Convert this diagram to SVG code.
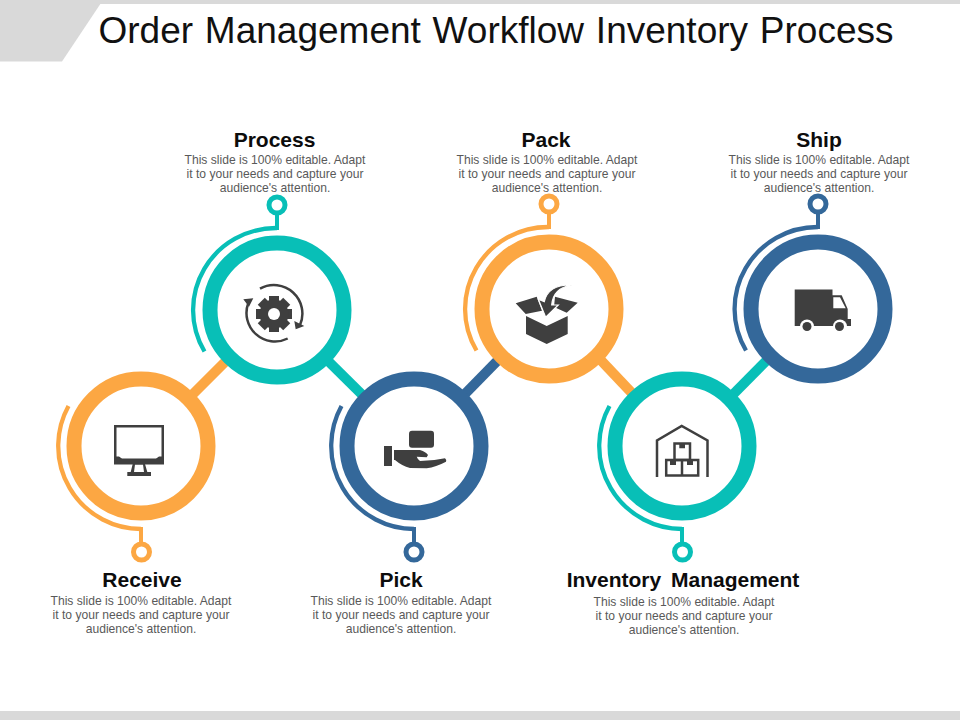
<svg xmlns="http://www.w3.org/2000/svg" width="960" height="720" viewBox="0 0 960 720">
<defs><style>
text{font-family:"Liberation Sans",Arial,sans-serif;text-anchor:middle}
.t{font-size:37px;fill:#111;word-spacing:1.5px}
.h{font-size:21px;font-weight:bold;fill:#0c0c0c;word-spacing:4px}
.b{font-size:12.100px;fill:#595959}
.ring{fill:#fff;stroke-width:15}
.arc{fill:none;stroke-width:4.300}
.stem{stroke-width:4}
.dot{fill:#fff;stroke-width:5}
.o{stroke:#fca743}.g{stroke:#08bfb7}.n{stroke:#34689a}
.ic{fill:#3f3f3f}.il{fill:none;stroke:#3f3f3f}
</style></defs>
<rect width="960" height="720" fill="#fff"/>
<g id="header">
<rect width="960" height="4" fill="#d9d9d9"/>
<rect y="711" width="960" height="9" fill="#d9d9d9"/>
<polygon points="0,0 103,0 62,61.500 0,61.500" fill="#d9d9d9"/>
<text class="t" x="496" y="43">Order Management Workflow Inventory Process</text>
</g>
<g id="connectors" stroke-width="10" fill="none">
<line class="o" x1="141" y1="446" x2="232" y2="355"/>
<line class="g" x1="322" y1="355" x2="414" y2="446"/>
<line class="n" x1="414" y1="446" x2="505" y2="353"/>
<line class="o" x1="594" y1="353" x2="682" y2="446"/>
<line class="g" x1="682" y1="446" x2="773" y2="354"/>
</g>
<g id="receive">
<path class="arc o" d="M68.500 406A83 83 0 0 0 141 529"/><line class="stem o" x1="141" y1="527" x2="141" y2="546"/>
<circle class="dot o" cx="141.500" cy="552" r="8"/>
<circle class="ring o" cx="141" cy="446" r="67"/>
<g id="icon-monitor"><path class="ic" fill-rule="evenodd" d="M114 425H164V464.500H114ZM116.500 427.500V456.500H119Q121 458 122 458.500H156Q157 458 159 456.500H161.500V427.500Z"/><path class="ic" fill-rule="evenodd" d="M132.700 464H145L147.300 472H151V476H127.300V472H130.700ZM135 464.500L134 472H144L143 464.500Z"/></g>
<text class="h" x="142" y="587">Receive</text>
<text class="b"><tspan x="141" y="604.500">This slide is 100% editable. Adapt</tspan><tspan x="141" y="618.500">it to your needs and capture your</tspan><tspan x="141" y="632.500">audience's attention.</tspan></text>
</g>
<g id="process">
<path class="arc g" d="M204.500 351.500A83 82 0 0 1 277 228"/><line class="stem g" x1="277" y1="230" x2="277" y2="210"/>
<circle class="dot g" cx="277" cy="205" r="8"/>
<circle class="ring g" cx="277" cy="310" r="67"/>
<g id="icon-gear"><g class="ic"><rect x="269" y="296" width="10" height="36"/><rect x="269" y="296" width="10" height="36" transform="rotate(45 274 314)"/><rect x="269" y="296" width="10" height="36" transform="rotate(90 274 314)"/><rect x="269" y="296" width="10" height="36" transform="rotate(135 274 314)"/><circle cx="274" cy="314" r="14.500"/></g><circle cx="274" cy="314" r="6" fill="#fff"/><path class="il" stroke-width="2.500" d="M248.300 303A28.500 28.500 0 0 0 287.700 338.500M260 288.700A28.500 28.500 0 0 1 300 325"/><path class="ic" d="M243.300 299.300L253.300 298.300L249 306.700ZM294.300 321L304.300 326L295.700 329.300Z"/></g>
<text class="h" x="274.500" y="147">Process</text>
<text class="b"><tspan x="275" y="163.500">This slide is 100% editable. Adapt</tspan><tspan x="275" y="177.500">it to your needs and capture your</tspan><tspan x="275" y="191.500">audience's attention.</tspan></text>
</g>
<g id="pick">
<path class="arc n" d="M341.500 406A83 83 0 0 0 414 529"/><line class="stem n" x1="414" y1="527" x2="414" y2="546"/>
<circle class="dot n" cx="414" cy="552" r="8"/>
<circle class="ring n" cx="414" cy="446" r="67"/>
<g id="icon-hand"><rect class="ic" x="409" y="430.700" width="25" height="17" rx="3"/><rect class="ic" x="384" y="446" width="8" height="20"/><path class="ic" d="M394 450H420Q426 452 428 455L426.700 457.300L416.700 456.700Q418 460 420 461Q433 461 445 458.300Q447 460 446 461.700Q436 467 426.700 468.300L410 468Q402 466 395 460H394Z"/></g>
<text class="h" x="401" y="587">Pick</text>
<text class="b"><tspan x="401" y="604.500">This slide is 100% editable. Adapt</tspan><tspan x="401" y="618.500">it to your needs and capture your</tspan><tspan x="401" y="632.500">audience's attention.</tspan></text>
</g>
<g id="pack">
<path class="arc o" d="M476.500 350.500A83 82 0 0 1 549 227"/><line class="stem o" x1="549" y1="229" x2="549" y2="209"/>
<circle class="dot o" cx="549" cy="204" r="8"/>
<circle class="ring o" cx="549" cy="309" r="67"/>
<g id="icon-box"><path class="ic" d="M526 316L546.700 326L567.700 316V334L546.700 344L526 334Z"/><path class="ic" d="M515.700 303.300L536.700 296.700L542 310.700L525.700 314ZM555 296.700L577.700 302.700L566.700 312.700L554 307Z"/><path class="ic" stroke="#fff" stroke-width="1.200" d="M571.700 285Q553 288 551.700 305L558.300 305L545.700 317.300L538.300 299.300L544.300 301.700Q548 284.500 571.700 285Z"/></g>
<text class="h" x="546" y="147">Pack</text>
<text class="b"><tspan x="547" y="163.500">This slide is 100% editable. Adapt</tspan><tspan x="547" y="177.500">it to your needs and capture your</tspan><tspan x="547" y="191.500">audience's attention.</tspan></text>
</g>
<g id="inventory">
<path class="arc g" d="M609.500 406A83 83 0 0 0 682 529"/><line class="stem g" x1="682" y1="527" x2="682" y2="546"/>
<circle class="dot g" cx="682.500" cy="552" r="8"/>
<circle class="ring g" cx="682" cy="446" r="67"/>
<g id="icon-warehouse" class="il" stroke-width="2.500"><path d="M657 477V440.500L681.700 426L707.500 440.500V477"/><rect x="666.200" y="460" width="32" height="15.500"/><rect x="674.500" y="443.500" width="15.500" height="16.500"/><line x1="682" y1="460" x2="682" y2="476"/><path class="ic" stroke="none" d="M679.300 443H685V448.300H679.300ZM670 460H676V465H670ZM687 460H693V465H687Z"/></g>
<text class="h" x="683" y="587">Inventory Management</text>
<text class="b"><tspan x="684" y="606">This slide is 100% editable. Adapt</tspan><tspan x="684" y="620">it to your needs and capture your</tspan><tspan x="684" y="634">audience's attention.</tspan></text>
</g>
<g id="ship">
<path class="arc n" d="M746 350.500A83 82 0 0 1 818 227"/><line class="stem n" x1="818" y1="229" x2="818" y2="209"/>
<circle class="dot n" cx="818" cy="204" r="8"/>
<circle class="ring n" cx="818" cy="309" r="67"/>
<g id="icon-truck"><path class="ic" fill-rule="evenodd" d="M794.700 289.500H832.500V295.300H841.700L847.700 309V319H851V326H794.700ZM833.300 297.300V308.300H845.700L840 297.300Z"/><circle cx="807" cy="326.500" r="7" fill="#fff"/><circle cx="840" cy="326.500" r="7" fill="#fff"/><circle class="ic" cx="807" cy="326.500" r="4.500"/><circle class="ic" cx="839.500" cy="326.500" r="4.500"/></g>
<text class="h" x="819" y="147">Ship</text>
<text class="b"><tspan x="819" y="163.500">This slide is 100% editable. Adapt</tspan><tspan x="819" y="177.500">it to your needs and capture your</tspan><tspan x="819" y="191.500">audience's attention.</tspan></text>
</g>
</svg>
